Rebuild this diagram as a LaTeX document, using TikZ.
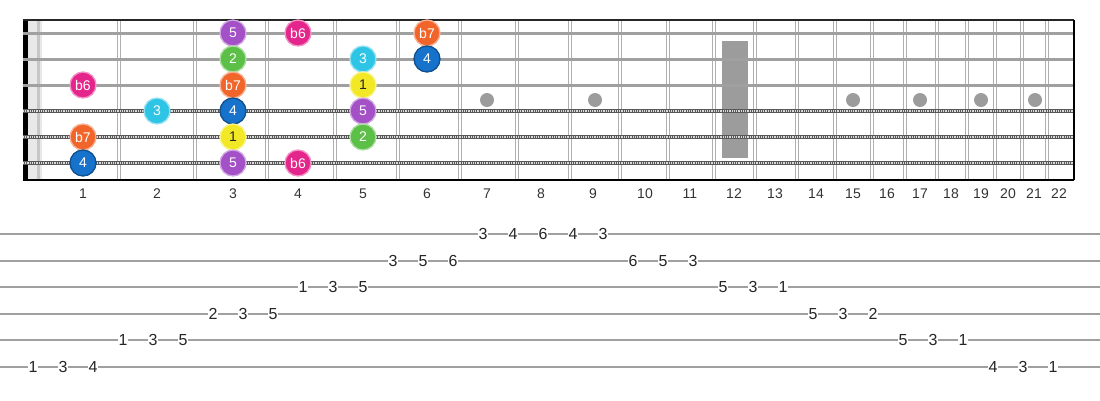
\documentclass[tikz,border=0pt]{standalone}
\usepackage{fontspec}
\setmainfont{Liberation Sans}

\definecolor{cpurple}{HTML}{A450C6}
\definecolor{cmagenta}{HTML}{E4268C}
\definecolor{corange}{HTML}{F2652A}
\definecolor{cgreen}{HTML}{5BBF48}
\definecolor{ccyan}{HTML}{2EC4E6}
\definecolor{cblue}{HTML}{1672CB}
\definecolor{cyellow}{HTML}{F3E826}
\definecolor{fretgray}{HTML}{B0B0B0}
\definecolor{strgray}{HTML}{A0A0A0}
\definecolor{dotgray}{HTML}{9C9C9C}

\tikzset{
  note/.style={circle, minimum size=26pt, inner sep=0pt, line width=1.3pt,
    text=white, font=\fontsize{14}{14}\selectfont},
  deg1/.style={note, fill=cyellow, draw=cyellow!50!white, text=black!85},
  deg2/.style={note, fill=cgreen, draw=cgreen!50!white},
  deg3/.style={note, fill=ccyan, draw=ccyan!50!white},
  deg4/.style={note, fill=cblue, draw=cblue!70!black},
  deg5/.style={note, fill=cpurple, draw=cpurple!50!white},
  degb6/.style={note, fill=cmagenta, draw=cmagenta!50!white},
  degb7/.style={note, fill=corange, draw=corange!50!white},
  fret/.style={draw=fretgray, line width=1.5pt},
  fretnum/.style={font=\fontsize{14}{14}\selectfont, text=black!80},
  tabnum/.style={fill=white, inner sep=0.6pt, font=\fontsize{16}{16}\selectfont, text=black!85},
}

\begin{document}
\begin{tikzpicture}[x=1pt,y=-1pt]
  \useasboundingbox (0,0) rectangle (1100,400);

  % nut
  \fill[black] (23,20) rectangle (27.5,180);
  \fill[gray!18] (27.5,20) rectangle (42,180);
  \fill[gray!45] (37,20) rectangle (40,180);

  % frets (double lines)
  \foreach \x in {119,195,267,335,398,460,517,570,620,668,714,755,797,835,872,905,937,967,995,1022,1047} {
    \draw[fret] (\x-1.6,20) -- (\x-1.6,180);
    \draw[fret] (\x+1.6,20) -- (\x+1.6,180);
  }

  % inlays
  \fill[dotgray] (722,41) rectangle (748,158);
  \foreach \x in {487,595,853,920,981,1035}
    \fill[dotgray] (\x,100) circle (7pt);

  % strings
  \foreach \y in {33,59,85}
    \draw[strgray, line width=3pt] (23,\y) -- (1074,\y);
  \foreach \y in {111,137,163} {
    \draw[strgray!55!black, line width=4.2pt] (23,\y) -- (1074,\y);
    \draw[white!70!gray, line width=2pt, dash pattern=on 0.9pt off 0.9pt] (23,\y) -- (1074,\y);
  }

  % border
  \draw[black!85, line width=2pt] (23,20) -- (1074,20);
  \draw[black, line width=2pt] (23,180) -- (1074,180);
  \draw[black, line width=1.6pt] (1074,20) -- (1074,180);

  % fret numbers
  \foreach \n/\x in {1/83,2/157,3/233,4/298,5/363,6/427,7/487,8/541,9/593,10/645,11/690,
                     12/734,13/775,14/816,15/853,16/887,17/920,18/951,19/981,20/1008,21/1034,22/1059}
    \node[fretnum] (f\n) at (\x,194) {\n};

  % scale notes: string/fret/x/style/degree
  \foreach \s/\f/\x/\c/\t in {1/3/233/deg5/5, 1/4/298/degb6/b6, 1/6/427/degb7/b7,
                              2/3/233/deg2/2, 2/5/363/deg3/3, 2/6/427/deg4/4,
                              3/1/83/degb6/b6, 3/3/233/degb7/b7, 3/5/363/deg1/1,
                              4/2/157/deg3/3, 4/3/233/deg4/4, 4/5/363/deg5/5,
                              5/1/83/degb7/b7, 5/3/233/deg1/1, 5/5/363/deg2/2,
                              6/1/83/deg4/4, 6/3/233/deg5/5, 6/4/298/degb6/b6}
    \node[\c] (n\s-\f) at (\x,{33+26*(\s-1)}) {\t};

  % tab
  \foreach \l in {1,...,6}
    \draw[strgray, line width=2pt] (0,{234+26.6*(\l-1)}) -- (1100,{234+26.6*(\l-1)});

  \foreach \i/\l/\t in {0/6/1,1/6/3,2/6/4, 3/5/1,4/5/3,5/5/5, 6/4/2,7/4/3,8/4/5,
                        9/3/1,10/3/3,11/3/5, 12/2/3,13/2/5,14/2/6, 15/1/3,16/1/4,17/1/6,
                        18/1/4,19/1/3, 20/2/6,21/2/5,22/2/3, 23/3/5,24/3/3,25/3/1,
                        26/4/5,27/4/3,28/4/2, 29/5/5,30/5/3,31/5/1, 32/6/4,33/6/3,34/6/1}
    \node[tabnum] (t\i) at (33+30*\i,{234+26.6*(\l-1)}) {\t};
\end{tikzpicture}
\end{document}
